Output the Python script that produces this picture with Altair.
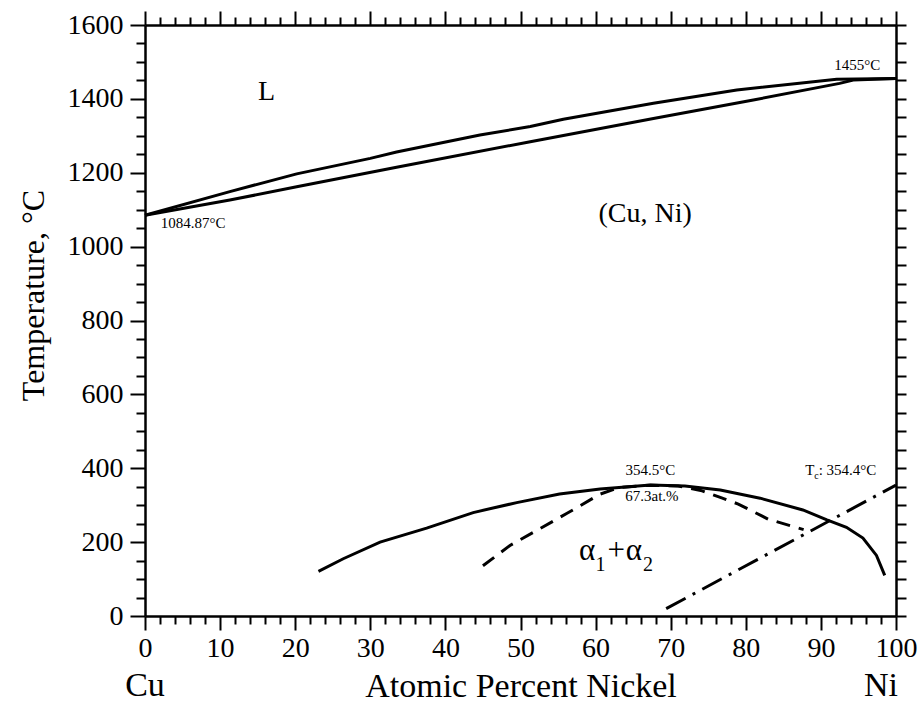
import altair as alt
import pandas as pd

FONT = "Liberation Serif"

# Liquidus (upper curve)
liq_x = [0, 11.3, 20.2, 30.0, 33.5, 44.6, 51.3, 55.7, 67.7, 78.8, 92.1, 100]
liq_t = [1084.87, 1149, 1197, 1239, 1256, 1302, 1325, 1345, 1388, 1424, 1453, 1455]

# Solidus (lower curve)
sol_x = [0, 11.3, 20.2, 33.5, 51.3, 67.7, 81.0, 92.5, 94.3, 100]
sol_t = [1084.87, 1126, 1162, 1215, 1284, 1347, 1397, 1442, 1451, 1455]

# Miscibility gap (solid)
gap_x = [23.1, 26.4, 31.3, 37.5, 43.7, 49.5, 55.2, 60.6, 67.3, 71.9, 76.6, 81.9, 87.6, 90.8, 93.4, 95.6, 97.4, 98.5]
gap_t = [121, 155, 200, 238, 280, 307, 330, 344, 354.5, 352, 341, 319, 287, 260, 240, 211, 164, 110]

# Spinodal (dashed)
spi_x = [45.0, 48.6, 56.2, 60.6, 63.2, 67.3, 71.0, 74.0, 76.6, 79.0, 83.0, 87.7]
spi_t = [136, 191, 278, 330, 348, 354, 352, 340, 321, 303, 262, 234]

# Curie temperature line (dash-dot)
cur_x = [69.4, 100]
cur_t = [20, 354.4]

# Annotations: text, x, T, font size, align
ann_text = ["L", "(Cu, Ni)", "1084.87°C", "1455°C", "354.5°C", "67.3at.%",
            "T", "c", ": 354.4°C", "α", "1", "+", "α", "2"]
ann_x = [16.2, 66.6, 2.1, 97.9, 67.3, 67.5, 87.9, 89.1, 89.7, 57.8, 60.0, 61.6, 64.0, 66.3]
ann_t = [1397, 1067, 1050, 1478, 382, 312, 382, 372, 382, 152, 122, 152, 152, 122]
ann_size = [28, 28, 15, 15, 15, 15, 15, 10, 15, 31, 20, 31, 31, 20]
ann_align = ["center", "center", "left", "right", "center", "center", "left", "left", "left",
             "left", "left", "left", "left", "left"]

# Element labels below the axis
elem_text = ["Cu", "Ni"]
elem_x = [0, 98]

xscale = alt.Scale(domain=[0, 100], nice=False, zero=False)
yscale = alt.Scale(domain=[0, 1600], nice=False, zero=False)

x_ticks = list(range(0, 101, 2))
y_ticks = list(range(0, 1601, 50))

x_axis = alt.Axis(
    orient="bottom", values=x_ticks, format="d",
    tickSize={"condition": {"test": "datum.value % 10 === 0", "value": 14}, "value": 8},
    labelExpr="datum.value % 10 === 0 ? datum.label : ''",
    labelFont=FONT, labelFontSize=28, labelColor="black", labelPadding=4,
    labelOverlap=False, labelFlush=False, grid=False,
    tickColor="black", tickWidth=2, domainColor="black", domainWidth=2.5,
    title="Atomic Percent Nickel", titleFont=FONT, titleFontSize=34,
    titleFontWeight="normal", titleColor="black", titleY=80,
    titleBaseline="alphabetic",
)
y_axis = alt.Axis(
    orient="left", values=y_ticks, format="d",
    tickSize={"condition": {"test": "datum.value % 200 === 0", "value": 15}, "value": 9},
    labelExpr="datum.value % 200 === 0 ? datum.label : ''",
    labelFont=FONT, labelFontSize=28, labelColor="black", labelPadding=7,
    labelOverlap=False, labelFlush=False, grid=False,
    tickColor="black", tickWidth=2, domainColor="black", domainWidth=2.5,
    title="Temperature, °C", titleFont=FONT, titleFontSize=32,
    titleFontWeight="normal", titleColor="black", titleAngle=270,
    titleX=-102, titleY=270, titleAlign="center", titleBaseline="alphabetic",
)
x_top = alt.Axis(
    orient="top", values=x_ticks, labels=False, title=None, grid=False,
    tickSize={"condition": {"test": "datum.value % 10 === 0", "value": 14}, "value": 8},
    tickColor="black", tickWidth=2, domainColor="black", domainWidth=2.5,
)
y_right = alt.Axis(
    orient="right", values=y_ticks, labels=False, title=None, grid=False,
    tickSize=10, tickColor="black", tickWidth=2, domainColor="black", domainWidth=2.5,
)


def df(xs, ts):
    return pd.DataFrame({"x": xs, "T": ts})


def line(xs, ts, dash=None, xa=None, ya=None):
    kw = {"color": "black", "strokeWidth": 3}
    if dash:
        kw["strokeDash"] = dash
    return alt.Chart(df(xs, ts)).mark_line(**kw).encode(
        x=alt.X("x:Q", scale=xscale, axis=xa),
        y=alt.Y("T:Q", scale=yscale, axis=ya),
        order="x:Q",
    )


layers = [
    line(liq_x, liq_t, xa=x_axis, ya=y_axis),
    alt.Chart(df(liq_x, liq_t)).mark_line(opacity=0).encode(
        x=alt.X("x:Q", scale=xscale, axis=x_top),
        y=alt.Y("T:Q", scale=yscale, axis=y_right),
    ),
    line(sol_x, sol_t),
    line(gap_x, gap_t),
    line(spi_x, spi_t, dash=[14, 9]),
    line(cur_x, cur_t, dash=[22, 8, 3, 8]),
]

for t, x, T, s, a in zip(ann_text, ann_x, ann_t, ann_size, ann_align):
    d = pd.DataFrame({"x": [x], "T": [T], "label": [t]})
    layers.append(
        alt.Chart(d).mark_text(font=FONT, fontSize=s, align=a, baseline="alphabetic", color="black").encode(
            x=alt.X("x:Q", scale=xscale, axis=None),
            y=alt.Y("T:Q", scale=yscale, axis=None),
            text="label:N",
        )
    )

elem_df = pd.DataFrame({"x": elem_x, "T": [0, 0], "label": elem_text})
layers.append(
    alt.Chart(elem_df).mark_text(font=FONT, fontSize=34, align="center", baseline="alphabetic",
                                 dy=80, color="black").encode(
        x=alt.X("x:Q", scale=xscale, axis=None),
        y=alt.Y("T:Q", scale=yscale, axis=None),
        text="label:N",
    )
)

chart = alt.layer(*layers).resolve_axis(x="independent", y="independent").properties(
    width=751, height=591,
    autosize=alt.AutoSizeParams(type="none"),
    padding={"left": 145, "top": 25, "right": 25, "bottom": 88},
    background="white",
).configure_view(stroke=None)

chart.save("out.html", embed_options={"renderer": "svg", "actions": False})
